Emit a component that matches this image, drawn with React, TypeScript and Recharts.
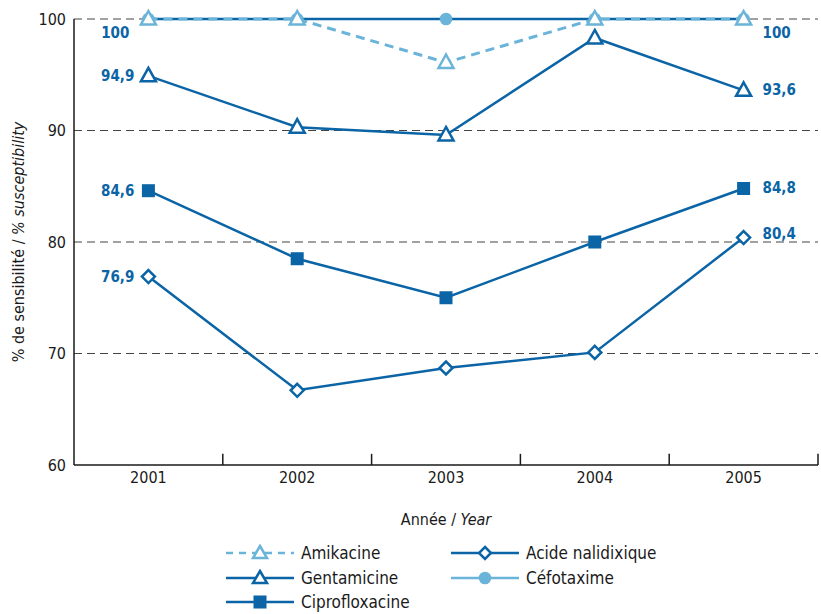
import React from "react";
import { LineChart, Line, XAxis, YAxis, ReferenceLine, LabelList, Legend } from "recharts";

// Susceptibility (%) by year
const years = [2001, 2002, 2003, 2004, 2005];
const amikacine = [100, 100, 96.1, 100, 100];
const gentamicine = [94.9, 90.3, 89.6, 98.3, 93.6];
const ciprofloxacine = [84.6, 78.5, 75.0, 80.0, 84.8];
const acideNalidixique = [76.9, 66.7, 68.7, 70.1, 80.4];
const cefotaxime = [100, 100, 100, 100, 100];

const yTicks = [60, 70, 80, 90, 100];
const gridValues = [70, 80, 90, 100];
// small tick marks between years (pointing up from the x axis)
const yearBounds = [2001.5, 2002.5, 2003.5, 2004.5, 2005.5];

const DARK = "#0b64a5";
const LIGHT = "#6bb4d9";
const FONT = "'Liberation Sans Narrow', 'DejaVu Sans Condensed', 'Arial Narrow', sans-serif";

const data = years.map((year, i) => ({
  year,
  amikacine: amikacine[i],
  gentamicine: gentamicine[i],
  ciprofloxacine: ciprofloxacine[i],
  acideNalidixique: acideNalidixique[i],
  cefotaxime: cefotaxime[i],
}));

const fmt = (v: number) => String(v).replace(".", ",");

const triangle = (color: string) => (p: any) => {
  const { cx, cy, index } = p;
  if (cx == null || cy == null) return <g key={index} />;
  return (
    <path
      key={index}
      d={`M${cx},${cy - 8}L${cx + 7.5},${cy + 5.5}L${cx - 7.5},${cy + 5.5}Z`}
      fill="#fff"
      stroke={color}
      strokeWidth={2.5}
    />
  );
};

const square = (p: any) => {
  const { cx, cy, index } = p;
  if (cx == null || cy == null) return <g key={index} />;
  return <rect key={index} x={cx - 6.5} y={cy - 6.5} width={13} height={13} fill={DARK} />;
};

const diamond = (p: any) => {
  const { cx, cy, index } = p;
  if (cx == null || cy == null) return <g key={index} />;
  return (
    <path
      key={index}
      d={`M${cx},${cy - 6.5}L${cx + 6.5},${cy}L${cx},${cy + 6.5}L${cx - 6.5},${cy}Z`}
      fill="#fff"
      stroke={DARK}
      strokeWidth={2.5}
    />
  );
};

const circle = (p: any) => {
  const { cx, cy, index } = p;
  if (cx == null || cy == null) return <g key={index} />;
  return <circle key={index} cx={cx} cy={cy} r={6.3} fill={LIGHT} />;
};

// labels only at the first and last year
const endLabel =
  (dxLeft: number, dyLeft: number, dxRight: number, dyRight: number) => (p: any) => {
    const { x, y, value, index } = p;
    if (index !== 0 && index !== years.length - 1) return null;
    const left = index === 0;
    return (
      <text
        key={index}
        x={left ? x - dxLeft : x + dxRight}
        y={y + (left ? dyLeft : dyRight)}
        textAnchor={left ? "end" : "start"}
        dominantBaseline="central"
        fill={DARK}
        fontWeight="bold"
        fontSize={15}
        fontFamily={FONT}
      >
        {fmt(value)}
      </text>
    );
  };

const YTitle = (p: any) => {
  const vb = p.viewBox || { x: 0, y: 0, width: 74, height: 446 };
  const cx = vb.x + 18;
  const cy = vb.y + vb.height / 2;
  return (
    <text
      x={cx}
      y={cy}
      transform={`rotate(-90, ${cx}, ${cy})`}
      textAnchor="middle"
      dominantBaseline="central"
      fontSize={16}
      fontFamily={FONT}
      fill="#1a1a1a"
    >
      % de sensibilité / <tspan fontStyle="italic">% susceptibility</tspan>
    </text>
  );
};

const XTitle = (p: any) => {
  const vb = p.viewBox || { x: 74, y: 465, width: 744, height: 79 };
  return (
    <text
      x={vb.x + vb.width / 2}
      y={vb.y + 54}
      textAnchor="middle"
      dominantBaseline="central"
      fontSize={16}
      fontFamily={FONT}
      fill="#1a1a1a"
    >
      Année / <tspan fontStyle="italic">Year</tspan>
    </text>
  );
};

const legendCols = [
  [
    { name: "Amikacine", color: LIGHT, dash: "7 6", marker: "tri" },
    { name: "Gentamicine", color: DARK, dash: undefined, marker: "tri" },
    { name: "Ciprofloxacine", color: DARK, dash: undefined, marker: "sq" },
  ],
  [
    { name: "Acide nalidixique", color: DARK, dash: undefined, marker: "dia" },
    { name: "Céfotaxime", color: LIGHT, dash: undefined, marker: "dot" },
  ],
];

const LegendIcon = ({ color, dash, marker }: any) => {
  const cx = 34;
  const cy = 9;
  let m = null;
  if (marker === "tri")
    m = <path d={`M${cx},${cy - 7}L${cx + 7},${cy + 5}L${cx - 7},${cy + 5}Z`} fill="#fff" stroke={color} strokeWidth={2.5} />;
  if (marker === "sq") m = <rect x={cx - 6.5} y={cy - 6.5} width={13} height={13} fill={color} />;
  if (marker === "dia")
    m = <path d={`M${cx},${cy - 6}L${cx + 6},${cy}L${cx},${cy + 6}L${cx - 6},${cy}Z`} fill="#fff" stroke={color} strokeWidth={2.5} />;
  if (marker === "dot") m = <circle cx={cx} cy={cy} r={6.3} fill={color} />;
  return (
    <svg width={68} height={18} style={{ display: "block" }}>
      <line x1={0} y1={cy} x2={68} y2={cy} stroke={color} strokeWidth={2.5} strokeDasharray={dash} />
      {m}
    </svg>
  );
};

const LegendBox = () => (
  <div style={{ position: "relative", width: 821, height: 70, fontFamily: FONT, fontSize: 17, color: "#1a1a1a" }}>
    {legendCols.map((col, ci) => (
      <div key={ci} style={{ position: "absolute", left: ci === 0 ? 226 : 451, top: -3 }}>
        {col.map((it) => (
          <div key={it.name} style={{ display: "flex", alignItems: "center", height: 24.5 }}>
            <LegendIcon {...it} />
            <span style={{ marginLeft: 7, lineHeight: "18px" }}>{it.name}</span>
          </div>
        ))}
      </div>
    ))}
  </div>
);

export default function App() {
  return (
    <div style={{ position: "absolute", left: 0, top: 0, width: 821, height: 614, overflow: "hidden", background: "#fff" }}>
      <LineChart width={821} height={614} data={data} margin={{ top: 19, right: 3, left: 0, bottom: 0 }}>
        <XAxis
          dataKey="year"
          type="number"
          domain={[2000.5, 2005.5]}
          ticks={years}
          tickLine={false}
          tickSize={0}
          tickMargin={7}
          axisLine={{ stroke: "#1a1a1a", strokeWidth: 1.5 }}
          tick={{ fontSize: 16, fill: "#1a1a1a", fontFamily: FONT }}
          height={79}
          label={<XTitle />}
        />
        <YAxis
          domain={[60, 100]}
          ticks={yTicks}
          width={74}
          tickLine={false}
          tickSize={0}
          tickMargin={8}
          axisLine={{ stroke: "#1a1a1a", strokeWidth: 1.5 }}
          tick={{ fontSize: 16, fill: "#1a1a1a", fontFamily: FONT }}
          label={<YTitle />}
        />
        {gridValues.map((v) => (
          <ReferenceLine key={v} y={v} stroke="#444" strokeWidth={1.2} strokeDasharray="8 5" />
        ))}
        {yearBounds.map((b) => (
          <ReferenceLine
            key={b}
            segment={[
              { x: b, y: 60 },
              { x: b, y: 61 },
            ]}
            stroke="#1a1a1a"
            strokeWidth={1.5}
          />
        ))}
        <Line
          dataKey="cefotaxime"
          stroke={DARK}
          strokeWidth={2.5}
          dot={circle}
          activeDot={false}
          isAnimationActive={false}
        />
        <Line
          dataKey="amikacine"
          stroke={LIGHT}
          strokeWidth={3}
          strokeDasharray="9 6"
          dot={triangle(LIGHT)}
          activeDot={false}
          isAnimationActive={false}
        >
          <LabelList dataKey="amikacine" content={endLabel(19, 14, 19, 14)} />
        </Line>
        <Line
          dataKey="gentamicine"
          stroke={DARK}
          strokeWidth={2.5}
          dot={triangle(DARK)}
          activeDot={false}
          isAnimationActive={false}
        >
          <LabelList dataKey="gentamicine" content={endLabel(14, 0, 19, 0)} />
        </Line>
        <Line
          dataKey="ciprofloxacine"
          stroke={DARK}
          strokeWidth={2.5}
          dot={square}
          activeDot={false}
          isAnimationActive={false}
        >
          <LabelList dataKey="ciprofloxacine" content={endLabel(14, 0, 19, 0)} />
        </Line>
        <Line
          dataKey="acideNalidixique"
          stroke={DARK}
          strokeWidth={2.5}
          dot={diamond}
          activeDot={false}
          isAnimationActive={false}
        >
          <LabelList dataKey="acideNalidixique" content={endLabel(14, 0, 19, -4)} />
        </Line>
        <Legend verticalAlign="bottom" height={70} wrapperStyle={{ left: 0, width: 821 }} content={() => <LegendBox />} />
      </LineChart>
    </div>
  );
}
